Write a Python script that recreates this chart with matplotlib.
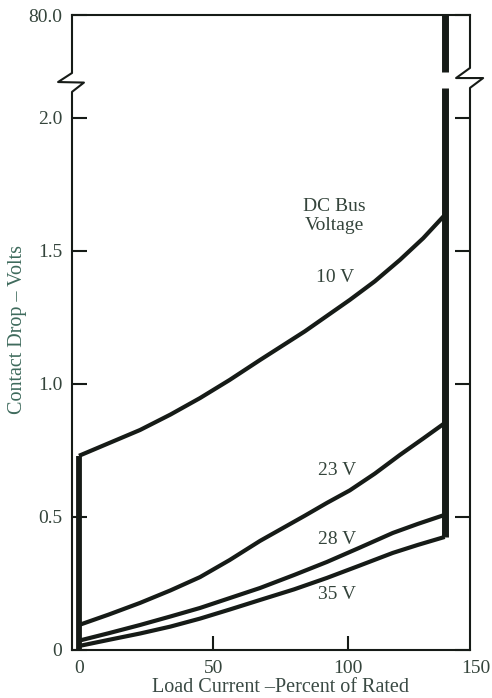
import matplotlib.pyplot as plt
import matplotlib.transforms as mtransforms

# contact drop vs load current
load_10 = [0, 11, 22.7, 34, 45, 56, 67.3, 84, 100.7, 110, 119.3, 128, 136]
drop_10 = [0.73, 0.777, 0.827, 0.885, 0.947, 1.015, 1.09, 1.198, 1.316, 1.386, 1.466, 1.548, 1.635]
load_23 = [0, 11, 22.7, 34, 45, 56, 67.3, 84, 92.2, 100.7, 110, 119.3, 128, 136]
drop_23 = [0.094, 0.133, 0.177, 0.224, 0.274, 0.338, 0.41, 0.505, 0.553, 0.60, 0.663, 0.733, 0.795, 0.853]
load_28 = [0, 11, 22.7, 34, 45, 56, 67.3, 80, 92.2, 104, 116.7, 126, 136]
drop_28 = [0.035, 0.063, 0.094, 0.126, 0.158, 0.195, 0.233, 0.282, 0.331, 0.383, 0.44, 0.474, 0.508]
load_35 = [0, 11, 22.7, 34, 45, 56, 67.3, 80, 92.2, 104, 116.7, 126, 136]
drop_35 = [0.015, 0.038, 0.062, 0.088, 0.118, 0.152, 0.188, 0.228, 0.271, 0.316, 0.365, 0.395, 0.425]

curve_labels = ["10 V", "23 V", "28 V", "35 V"]
label_x = [95.2, 96, 96, 96]
label_y = [1.40, 0.673, 0.414, 0.207]

yticks = [0, 0.5, 1.0, 1.5, 2.0]
ytick_labels = ["0", "0.5", "1.0", "1.5", "2.0"]
xticks = [0, 50, 100]
xtick_labels = ["0", "50", "100"]

y_top = 2.387      # where the axis jumps to 80.0
break_lo, break_hi = 2.113, 2.173

ink = "#161b17"
txt = "#34443b"
fs = 14
plt.rcParams['font.family'] = ['Liberation Serif', 'DejaVu Serif']

fig = plt.figure(figsize=(4.92, 6.98), dpi=100)
ax = fig.add_axes([72/492, 1 - 650/698, 398/492, 635/698])
ax.set_xlim(-2.6, 145.4)
ax.set_ylim(0, y_top)

for xs, ys in [(load_10, drop_10), (load_23, drop_23), (load_28, drop_28), (load_35, drop_35)]:
    ax.plot(xs, ys, color=ink, lw=3, solid_capstyle='butt', solid_joinstyle='round', zorder=3)

# thick verticals at zero load and at the end of the curves
ax.plot([0, 0], [0, drop_10[0]], color=ink, lw=4.2, solid_capstyle='butt', zorder=3)
x_end = load_10[-1]
ax.plot([x_end, x_end], [drop_35[-1], break_lo], color=ink, lw=5, solid_capstyle='butt', zorder=3)
ax.plot([x_end, x_end], [break_hi, y_top], color=ink, lw=5, solid_capstyle='butt', zorder=3)

for s in ['left', 'right']:
    ax.spines[s].set_visible(False)
for s in ['top', 'bottom']:
    ax.spines[s].set_color(ink)
    ax.spines[s].set_linewidth(1.5)

# hand-drawn side spines with the break zigzag
tr = mtransforms.blended_transform_factory(ax.transAxes, ax.transData)
ax.plot([0, 0, -0.035, 0.03, 0, 0], [y_top, 2.169, 2.135, 2.133, 2.098, 0],
        color=ink, lw=1.5, transform=tr, clip_on=False, zorder=4)
ax.plot([1, 1, 0.965, 1.033, 1, 1], [y_top, 2.188, 2.15, 2.15, 2.113, 0],
        color=ink, lw=1.5, transform=tr, clip_on=False, zorder=4)

ax.set_yticks(yticks + [y_top])
ax.set_yticklabels(ytick_labels + ["80.0"])
ax.set_xticks(xticks)
ax.set_xticklabels(xtick_labels)
ax.tick_params(axis='y', direction='in', left=True, right=True, length=11, width=1.5,
               color=ink, labelsize=fs, labelcolor=txt, pad=7)
ax.tick_params(axis='x', direction='in', length=10, width=1.5, color=ink,
               labelsize=fs, labelcolor=txt, pad=7)
fig.text(490/492, 1 - 660/698, "150", ha='right', va='top', fontsize=fs, color=txt)

for lab, lx, ly in zip(curve_labels, label_x, label_y):
    ax.text(lx, ly, lab, ha='center', va='center', fontsize=fs, color=txt)
ax.text(94.8, 1.63, "DC Bus\nVoltage", ha='center', va='center', fontsize=fs,
        color=txt, linespacing=1.15)

fig.text(18/492, 1 - 330/698, "Contact Drop – Volts", rotation=90, ha='center', va='center',
         fontsize=14.5, color="#3e6a5c")
fig.text(280/492, 1 - 688/698, "Load Current –Percent of Rated", ha='center', va='center',
         fontsize=14.5, color="#3a4a44")

fig.savefig("out.png", dpi=100)
